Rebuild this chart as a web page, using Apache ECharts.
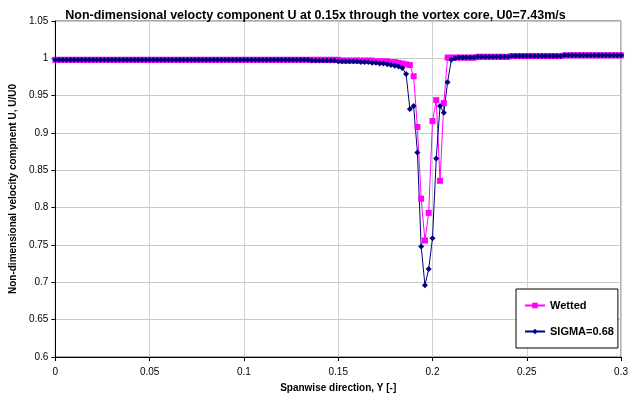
<!DOCTYPE html>
<html>
<head>
<meta charset="utf-8">
<script src="https://cdn.jsdelivr.net/npm/echarts@6/dist/echarts.min.js"></script>
<style>
html,body{margin:0;padding:0;background:#fff;}
#chart{width:631px;height:401px;}
</style>
</head>
<body>
<div id="chart"></div>
<script>
// Spanwise positions Y [-]
const spanY = [
0,0.002,0.004,0.006,0.008,0.01,0.012,0.014,0.016,0.018,
0.02,0.022,0.024,0.026,0.028,0.03,0.032,0.034,0.036,0.038,
0.04,0.042,0.044,0.046,0.048,0.05,0.052,0.054,0.056,0.058,
0.06,0.062,0.064,0.066,0.068,0.07,0.072,0.074,0.076,0.078,
0.08,0.082,0.084,0.086,0.088,0.09,0.092,0.094,0.096,0.098,
0.1,0.102,0.104,0.106,0.108,0.11,0.112,0.114,0.116,0.118,
0.12,0.122,0.124,0.126,0.128,0.13,0.132,0.134,0.136,0.138,
0.14,0.142,0.144,0.146,0.148,0.15,0.152,0.154,0.156,0.158,
0.16,0.162,0.164,0.166,0.168,0.17,0.172,0.174,0.176,0.178,
0.18,0.182,0.184,0.186,0.188,0.19,0.192,0.194,0.196,0.198,
0.2,0.202,0.204,0.206,0.208,0.21,0.212,0.214,0.216,0.218,
0.22,0.222,0.224,0.226,0.228,0.23,0.232,0.234,0.236,0.238,
0.24,0.242,0.244,0.246,0.248,0.25,0.252,0.254,0.256,0.258,
0.26,0.262,0.264,0.266,0.268,0.27,0.272,0.274,0.276,0.278,
0.28,0.282,0.284,0.286,0.288,0.29,0.292,0.294,0.296,0.298,
0.3
];
// Wetted U/U0
const wetted = [
0.998,0.998,0.998,0.998,0.998,0.998,0.998,0.998,0.998,0.998,
0.998,0.998,0.998,0.998,0.998,0.998,0.998,0.998,0.998,0.998,
0.998,0.998,0.998,0.998,0.998,0.998,0.998,0.998,0.998,0.998,
0.998,0.998,0.998,0.998,0.998,0.998,0.998,0.998,0.998,0.998,
0.998,0.998,0.998,0.998,0.998,0.998,0.998,0.998,0.998,0.998,
0.998,0.998,0.998,0.998,0.998,0.998,0.998,0.998,0.998,0.998,
0.998,0.998,0.998,0.998,0.998,0.998,0.998,0.998,0.998,0.998,
0.998,0.998,0.998,0.998,0.998,0.998,0.997,0.997,0.997,0.997,
0.997,0.997,0.997,0.997,0.997,0.996,0.996,0.996,0.996,0.995,
0.995,0.994,0.993,0.992,0.991,0.976,0.908,0.812,0.756,0.793,
0.916,0.944,0.836,0.940,1.001,1.001,1.001,1.001,1.001,1.001,
1.001,1.001,1.002,1.002,1.002,1.002,1.002,1.002,1.002,1.002,
1.002,1.003,1.003,1.003,1.003,1.003,1.003,1.003,1.003,1.003,
1.003,1.003,1.003,1.003,1.003,1.004,1.004,1.004,1.004,1.004,
1.004,1.004,1.004,1.004,1.004,1.004,1.004,1.004,1.004,1.004,
1.004
];
// SIGMA=0.68 U/U0
const sigma068 = [
0.998,0.998,0.998,0.998,0.998,0.998,0.998,0.998,0.998,0.998,
0.998,0.998,0.998,0.998,0.998,0.998,0.998,0.998,0.998,0.998,
0.998,0.998,0.998,0.998,0.998,0.998,0.998,0.998,0.998,0.998,
0.998,0.998,0.998,0.998,0.998,0.998,0.998,0.998,0.998,0.998,
0.998,0.998,0.998,0.998,0.998,0.998,0.998,0.998,0.998,0.998,
0.998,0.998,0.998,0.998,0.998,0.998,0.998,0.998,0.998,0.998,
0.998,0.998,0.998,0.998,0.998,0.998,0.998,0.998,0.997,0.997,
0.997,0.997,0.997,0.997,0.997,0.996,0.996,0.996,0.996,0.996,
0.996,0.995,0.995,0.995,0.994,0.994,0.993,0.993,0.992,0.991,
0.990,0.989,0.987,0.979,0.932,0.936,0.874,0.748,0.696,0.718,
0.759,0.866,0.936,0.927,0.968,0.998,1.000,1.001,1.001,1.001,
1.001,1.001,1.002,1.002,1.002,1.002,1.002,1.002,1.002,1.002,
1.002,1.003,1.003,1.003,1.003,1.003,1.003,1.003,1.003,1.003,
1.003,1.003,1.003,1.003,1.003,1.004,1.004,1.004,1.004,1.004,
1.004,1.004,1.004,1.004,1.004,1.004,1.004,1.004,1.004,1.004,
1.004
];
const seriesNames = ['Wetted', 'SIGMA=0.68'];

const pairs = (xs, ys) => xs.map((x, i) => [x, ys[i]]);
const FONT = '"Liberation Sans", Arial, sans-serif';

const chart = echarts.init(document.getElementById('chart'), null, {renderer: 'canvas'});
chart.setOption({
  animation: false,
  backgroundColor: '#fff',
  title: {
    text: 'Non-dimensional velocty component U at 0.15x through the vortex core, U0=7.43m/s',
    left: 'center', top: 4,
    textStyle: {fontFamily: FONT, fontSize: 12.5, fontWeight: 'bold', color: '#000'}
  },
  legend: {
    orient: 'vertical',
    left: 516, top: 289,
    padding: [11, 4, 11, 8],
    itemWidth: 20, itemHeight: 7, itemGap: 15,
    backgroundColor: '#fff', borderColor: '#000', borderWidth: 1,
    textStyle: {fontFamily: FONT, fontSize: 11, fontWeight: 'bold', color: '#000'},
    data: seriesNames
  },
  grid: {
    left: 50, right: 6, top: 21, bottom: 44,
    show: true, borderColor: '#555', borderWidth: 1, backgroundColor: '#fff'
  },
  xAxis: {
    type: 'value', min: 0, max: 0.3, interval: 0.05,
    name: 'Spanwise direction, Y [-]', nameLocation: 'middle', nameGap: 26,
    nameTextStyle: {fontFamily: FONT, fontSize: 10, fontWeight: 'bold', color: '#000'},
    axisLine: {show: true, onZero: false, lineStyle: {color: '#000', width: 1}},
    axisTick: {show: true, length: 4, lineStyle: {color: '#000'}},
    axisLabel: {fontFamily: FONT, fontSize: 10, color: '#000', margin: 10},
    splitLine: {show: true, lineStyle: {color: '#d0d0d0', width: 1}}
  },
  yAxis: {
    type: 'value', min: 0.6, max: 1.05, interval: 0.05,
    name: 'Non-dimensional velocity compnent U, U/U0', nameLocation: 'middle', nameGap: 37,
    nameTextStyle: {fontFamily: FONT, fontSize: 10, fontWeight: 'bold', color: '#000'},
    axisLine: {show: true, onZero: false, lineStyle: {color: '#000', width: 1}},
    axisTick: {show: true, length: 4, lineStyle: {color: '#000'}},
    axisLabel: {fontFamily: FONT, fontSize: 10, color: '#000', margin: 7},
    splitLine: {show: true, lineStyle: {color: '#c8c8c8', width: 1}}
  },
  series: [
    {
      name: seriesNames[0], type: 'line', data: pairs(spanY, wetted),
      symbol: 'rect', symbolSize: 6, showAllSymbol: true,
      lineStyle: {color: '#ff00ff', width: 1},
      itemStyle: {color: '#ff00ff'}
    },
    {
      name: seriesNames[1], type: 'line', data: pairs(spanY, sigma068),
      symbol: 'diamond', symbolSize: 6, showAllSymbol: true,
      lineStyle: {color: '#000080', width: 1},
      itemStyle: {color: '#000080'}
    }
  ]
});
</script>
</body>
</html>
